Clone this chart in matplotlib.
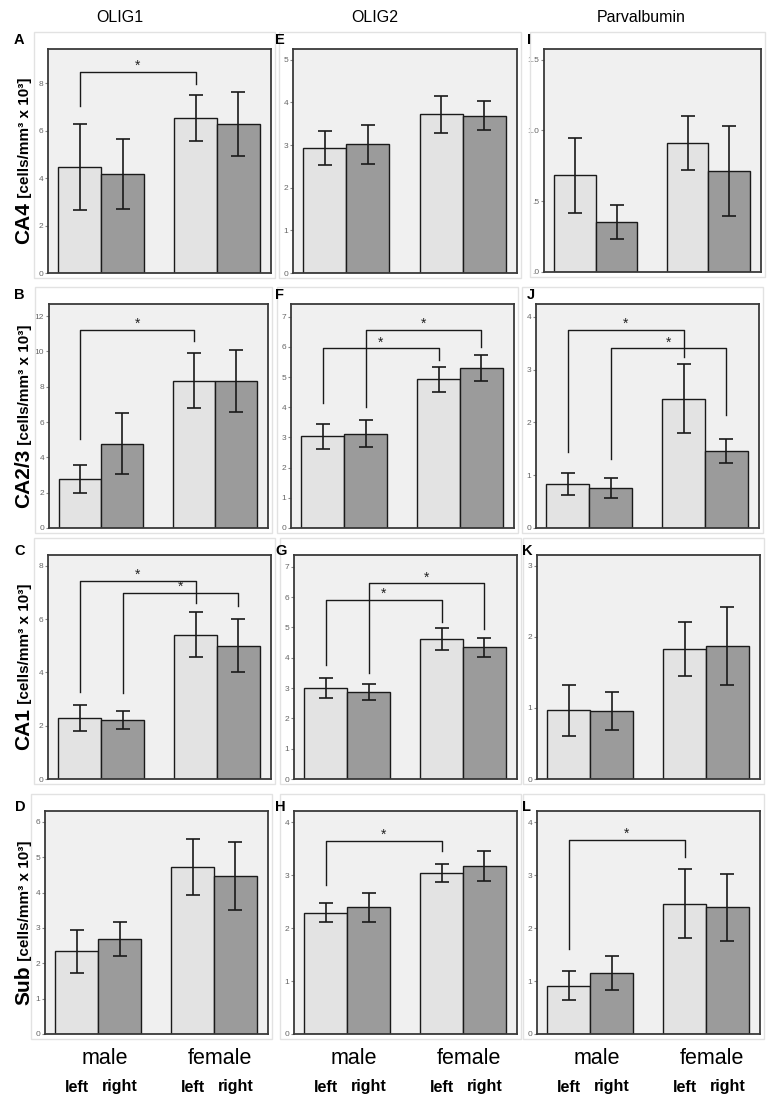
import matplotlib
matplotlib.use("Agg")
import matplotlib.pyplot as plt
from matplotlib.transforms import blended_transform_factory
from matplotlib.patches import Rectangle

plt.rcParams['font.family'] = ['Liberation Sans', 'DejaVu Sans']

# ---------------------------------------------------------------------------
# Data (bar order: male-left, male-right, female-left, female-right)
# ---------------------------------------------------------------------------
markers = ['OLIG1', 'OLIG2', 'Parvalbumin']
regions = ['CA4', 'CA2/3', 'CA1', 'Sub']
sexes = ['male', 'female']
sides = ['left', 'right']
panel_letters = [['A', 'B', 'C', 'D'], ['E', 'F', 'G', 'H'], ['I', 'J', 'K', 'L']]

olig1_means = [[4.45, 4.17, 6.54, 6.27], [2.76, 4.76, 8.34, 8.34],
               [2.28, 2.22, 5.42, 5.01], [2.34, 2.70, 4.72, 4.46]]
olig1_errs = [[1.81, 1.48, 0.97, 1.35], [0.80, 1.73, 1.57, 1.75],
              [0.49, 0.34, 0.85, 1.01], [0.60, 0.48, 0.80, 0.96]]
olig2_means = [[2.92, 3.02, 3.72, 3.69], [3.04, 3.13, 4.93, 5.30],
               [3.00, 2.86, 4.63, 4.34], [2.29, 2.39, 3.04, 3.17]]
olig2_errs = [[0.40, 0.46, 0.44, 0.34], [0.41, 0.44, 0.41, 0.42],
              [0.33, 0.26, 0.36, 0.30], [0.18, 0.27, 0.17, 0.29]]
parv_means = [[0.683, 0.354, 0.912, 0.713], [0.834, 0.758, 2.45, 1.46],
              [0.964, 0.955, 1.83, 1.87], [0.915, 1.16, 2.46, 2.39]]
parv_errs = [[0.265, 0.118, 0.19, 0.32], [0.215, 0.19, 0.65, 0.23],
             [0.36, 0.27, 0.38, 0.55], [0.28, 0.32, 0.65, 0.64]]

olig1_ymax = [9.44, 12.68, 8.41, 6.31]
olig2_ymax = [5.25, 7.42, 7.39, 4.21]
parv_ymax = [1.575, 4.24, 3.15, 4.21]

olig1_ticks = [[0, 2, 4, 6, 8], [0, 2, 4, 6, 8, 10, 12], [0, 2, 4, 6, 8], [0, 1, 2, 3, 4, 5, 6]]
olig2_ticks = [[0, 1, 2, 3, 4, 5], [0, 1, 2, 3, 4, 5, 6, 7], [0, 1, 2, 3, 4, 5, 6, 7], [0, 1, 2, 3, 4]]
parv_ticks = [[0, 0.5, 1.0, 1.5], [0, 1, 2, 3, 4], [0, 1, 2, 3], [0, 1, 2, 3, 4]]
parv_ca4_ticklabels = ['.0', '.5', '1.0', '1.5']

# significance brackets: (bar from, bar to, bracket height, left leg end, right leg end)
olig1_sig = [[(0, 2, 8.46, 7.04, 7.97)],
             [(0, 2, 11.21, 5.01, 10.59)],
             [(0, 2, 7.45, 3.28, 6.60), (1, 3, 7.00, 3.22, 6.50)],
             []]
olig2_sig = [[],
             [(0, 2, 5.95, 4.13, 5.56), (1, 3, 6.56, 4.02, 6.01)],
             [(0, 2, 5.90, 3.75, 5.18), (1, 3, 6.45, 3.51, 4.96)],
             [(0, 2, 3.65, 2.81, 3.45)]]
parv_sig = [[],
            [(0, 2, 3.75, 1.44, 3.24), (1, 3, 3.40, 1.31, 2.14)],
            [],
            [(0, 2, 3.66, 1.60, 3.34)]]

all_means = [olig1_means, olig2_means, parv_means]
all_errs = [olig1_errs, olig2_errs, parv_errs]
all_ymax = [olig1_ymax, olig2_ymax, parv_ymax]
all_ticks = [olig1_ticks, olig2_ticks, parv_ticks]
all_sig = [olig1_sig, olig2_sig, parv_sig]

# ---------------------------------------------------------------------------
# Layout (pixel boxes: left, right, top, bottom)
# ---------------------------------------------------------------------------
W, H = 768, 1100
boxes = [
    [(48, 271, 49, 273), (49, 268, 304, 528), (48, 271, 555, 779), (45, 268, 811, 1034)],
    [(293, 517, 49, 273), (291, 514, 304, 528), (294, 517, 555, 779), (294, 517, 811, 1034)],
    [(544, 761, 49, 272), (536, 759, 304, 528), (537, 760, 555, 779), (537, 760, 811, 1034)],
]
letter_pos = [[(14, 40), (14, 295), (14, 551), (15, 807)],
              [(275, 40), (275, 295), (275, 551), (275, 807)],
              [(527, 40), (527, 295), (522, 551), (522, 807)]]
title_x = [120, 375, 641]
ylabel_x = 29

bar_x = [0, 1, 2.7, 3.7]
bar_colors = ['#e3e3e3', '#9b9b9b', '#e3e3e3', '#9b9b9b']

fig = plt.figure(figsize=(W / 100, H / 100), dpi=100)
fig.patch.set_facecolor('white')

axes = {}
for c in range(3):
    for r in range(4):
        l, rt, t, b = boxes[c][r]
        # faint panel frame
        fig.patches.append(Rectangle(((l - 14) / W, 1 - (b + 5) / H), (rt - l + 18) / W, (b - t + 22) / H,
                                     transform=fig.transFigure, fill=False, edgecolor='#e2e2e2',
                                     linewidth=1, zorder=0))
        ax = fig.add_axes([l / W, 1 - b / H, (rt - l) / W, (b - t) / H])
        ax.set_facecolor('#f0f0f0')
        means = all_means[c][r]
        errs = all_errs[c][r]
        ax.bar(bar_x, means, width=1.0, color=bar_colors, edgecolor='#1a1a1a', linewidth=1.0, zorder=2)
        ax.errorbar(bar_x, means, yerr=errs, fmt='none', ecolor='#1a1a1a', elinewidth=1.2,
                    capsize=5, capthick=1.2, zorder=3)
        for (i, j, yh, yl, yr) in all_sig[c][r]:
            ax.plot([bar_x[i], bar_x[i], bar_x[j], bar_x[j]], [yl, yh, yh, yr],
                    color='#1a1a1a', linewidth=1.0, zorder=4)
            ax.annotate('*', xy=((bar_x[i] + bar_x[j]) / 2, yh), xytext=(0, 1.5),
                        textcoords='offset points', ha='center', va='baseline',
                        fontsize=10, color='#222222')
        ax.set_xlim(-0.74, 4.46)
        ax.set_ylim(0, all_ymax[c][r])
        ax.set_xticks([])
        ax.set_yticks(all_ticks[c][r])
        if c == 2 and r == 0:
            ax.set_yticklabels(parv_ca4_ticklabels)
        else:
            ax.set_yticklabels([str(v) for v in all_ticks[c][r]])
        ax.tick_params(axis='y', length=2.5, width=0.8, color='#888888', labelsize=6,
                       labelcolor='#666666', pad=1)
        for s in ax.spines.values():
            s.set_color('#3a3a3a')
            s.set_linewidth(1.3)
        lx, ly = letter_pos[c][r]
        fig.text(lx / W, 1 - ly / H, panel_letters[c][r], fontsize=10.5, fontweight='bold',
                 ha='left', va='center')
        axes[(c, r)] = ax

for c in range(3):
    fig.text(title_x[c] / W, 1 - 18 / H, markers[c], fontsize=11.5, ha='center', va='center')

# x labels under bottom row
for c in range(3):
    ax = axes[(c, 3)]
    tr = blended_transform_factory(ax.transData, fig.transFigure)
    for g, sex in enumerate(sexes):
        cx = (bar_x[2 * g] + bar_x[2 * g + 1]) / 2 + 0.15
        ax.text(cx, 1 - 1058 / H, sex, transform=tr, ha='center', va='center', fontsize=15.5)
        for k, side in enumerate(sides):
            ax.text(bar_x[2 * g + k], 1 - 1087 / H, side, transform=tr, ha='center', va='center',
                    fontsize=11.5, fontweight='bold')

# y labels on the left column
ylab_big = []
ylab_small = []
for r in range(4):
    t1 = fig.text(ylabel_x / W, 0.5, regions[r], rotation=90, rotation_mode='anchor', ha='left',
                  va='baseline', fontsize=15, fontweight='bold')
    t2 = fig.text(ylabel_x / W, 0.5, ' [cells/mm\u00b3 x 10\u00b3]', rotation=90, rotation_mode='anchor',
                  ha='left', va='baseline', fontsize=11, fontweight='bold')
    ylab_big.append(t1)
    ylab_small.append(t2)

fig.canvas.draw()
renderer = fig.canvas.get_renderer()
for r in range(4):
    l, rt, t, b = boxes[0][r]
    center = H - (t + b) / 2
    l1 = ylab_big[r].get_window_extent(renderer).height
    l2 = ylab_small[r].get_window_extent(renderer).height
    y0 = center - (l1 + l2) / 2
    ylab_big[r].set_position((ylabel_x / W, y0 / H))
    ylab_small[r].set_position((ylabel_x / W, (y0 + l1) / H))

plt.savefig('out.png', dpi=100)
